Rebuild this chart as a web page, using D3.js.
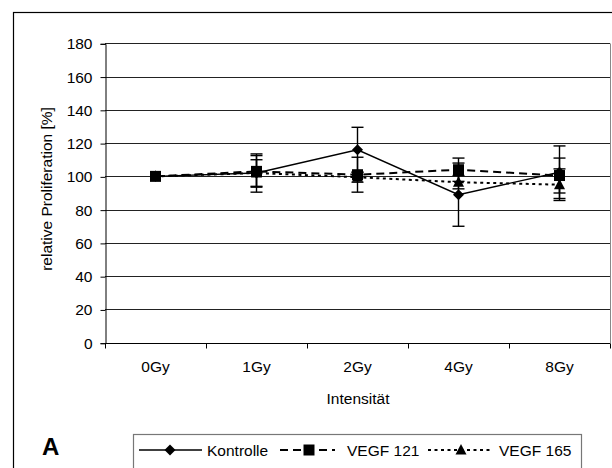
<!DOCTYPE html>
<html>
<head>
<meta charset="utf-8">
<script src="https://cdn.jsdelivr.net/npm/d3@7"></script>
<style>
  html, body { margin: 0; padding: 0; background: #fff; }
  svg { display: block; font-family: "Liberation Sans", Arial, sans-serif; }
</style>
</head>
<body>
<svg id="chart" width="612" height="468"></svg>
<script>
// Dose levels on the x axis
const categories = ["0Gy", "1Gy", "2Gy", "4Gy", "8Gy"];
const yTicks = [0, 20, 40, 60, 80, 100, 120, 140, 160, 180];

// Relative proliferation (%) per group, with standard deviations
const kontrolle    = [100, 102, 116, 89, 102.5];
const kontrolleErr = [0, 11.5, 13.5, 19, 15.8];
const vegf121      = [100, 103, 101, 104, 100.5];
const vegf121Err   = [0, 9.5, 10.5, 7, 10.5];
const vegf165      = [100, 102, 99.5, 96.5, 95];
const vegf165Err   = [0, 8, 3, 4, 9.5];

const series = [
  { name: "Kontrolle", values: kontrolle, errors: kontrolleErr, dash: null, width: 1.4, marker: "diamond" },
  { name: "VEGF 121", values: vegf121, errors: vegf121Err, dash: "8,5", width: 2, marker: "square" },
  { name: "VEGF 165", values: vegf165, errors: vegf165Err, dash: "3,3.5", width: 2, marker: "triangle" }
];

const svg = d3.select("#chart");
const plot = { left: 105, right: 610, top: 43.3, bottom: 342.7 };

const x = d3.scaleBand().domain(categories).range([plot.left, plot.right]).padding(0);
const y = d3.scaleLinear().domain([0, 180]).range([plot.bottom, plot.top]);
const cx = c => x(c) + x.bandwidth() / 2;

// Outer chart frame
svg.append("rect")
  .attr("x", 13.5).attr("y", 12.5).attr("width", 640).attr("height", 500)
  .attr("fill", "none").attr("stroke", "#000").attr("stroke-width", 1.2);

// Horizontal gridlines
svg.append("g").selectAll("line").data(yTicks.filter(t => t > 0)).join("line")
  .attr("x1", plot.left).attr("x2", plot.right)
  .attr("y1", d => Math.round(y(d)) + 0.5).attr("y2", d => Math.round(y(d)) + 0.5)
  .attr("stroke", "#222").attr("stroke-width", 1);

// Plot area right border
svg.append("line")
  .attr("x1", plot.right + 0.5).attr("x2", plot.right + 0.5)
  .attr("y1", Math.round(y(180)) + 0.5).attr("y2", Math.round(y(0)) + 0.5)
  .attr("stroke", "#888").attr("stroke-width", 1);

// Y axis
const yAxis = d3.axisLeft(y).tickValues(yTicks).tickSize(5).tickPadding(8);
const gy = svg.append("g").attr("transform", `translate(${plot.left + 0.5},0.5)`).call(yAxis);
gy.select(".domain").attr("stroke", "#000");
gy.selectAll(".tick line").attr("stroke", "#000");
gy.selectAll(".tick text").attr("font-size", 15.5).attr("fill", "#000")
  .attr("font-family", "Liberation Sans, Arial, sans-serif");

// X axis: ticks sit between categories
const gx = svg.append("g").attr("transform", `translate(0,${Math.round(plot.bottom) + 0.5})`);
gx.append("line").attr("x1", plot.left).attr("x2", plot.right).attr("stroke", "#000");
gx.selectAll("line.tk").data(categories.concat(["end"])).join("line").attr("class", "tk")
  .attr("x1", (d, i) => Math.round(i < categories.length ? x(d) : plot.right) + 0.5)
  .attr("x2", (d, i) => Math.round(i < categories.length ? x(d) : plot.right) + 0.5)
  .attr("y1", 0).attr("y2", 5).attr("stroke", "#000");
gx.selectAll("text").data(categories).join("text")
  .attr("x", d => cx(d)).attr("y", 28.5)
  .attr("text-anchor", "middle").attr("font-size", 15.5).text(d => d);

// Axis titles
svg.append("text").attr("x", 358).attr("y", 404)
  .attr("text-anchor", "middle").attr("font-size", 15.5).text("Intensität");
svg.append("text")
  .attr("transform", "translate(52,189) rotate(-90)")
  .attr("text-anchor", "middle").attr("font-size", 15.5).text("relative Proliferation [%]");

// Marker shapes
function markerPath(kind) {
  if (kind === "diamond") return "M0,-5.5L5.5,0L0,5.5L-5.5,0Z";
  if (kind === "square") return "M-5.5,-5.5H5.5V5.5H-5.5Z";
  return "M0,-6L5.5,4.5L-5.5,4.5Z";
}

const line = d3.line().x(d => cx(d.c)).y(d => y(d.v));

series.forEach(s => {
  const g = svg.append("g");
  const pts = categories.map((c, i) => ({ c, v: s.values[i], e: s.errors[i] }));
  g.append("path").datum(pts).attr("d", line)
    .attr("fill", "none").attr("stroke", "#000").attr("stroke-width", s.width)
    .attr("stroke-dasharray", s.dash);
  // Error bars
  pts.filter(p => p.e > 0).forEach(p => {
    const px = cx(p.c);
    g.append("line").attr("x1", px).attr("x2", px)
      .attr("y1", y(p.v + p.e)).attr("y2", y(p.v - p.e))
      .attr("stroke", "#000").attr("stroke-width", 1.4);
    [p.v + p.e, p.v - p.e].forEach(v => {
      g.append("line").attr("x1", px - 6).attr("x2", px + 6)
        .attr("y1", y(v)).attr("y2", y(v))
        .attr("stroke", "#000").attr("stroke-width", 1.4);
    });
  });
  g.selectAll("path.mk").data(pts).join("path").attr("class", "mk")
    .attr("transform", d => `translate(${cx(d.c)},${y(d.v)})`)
    .attr("d", markerPath(s.marker)).attr("fill", "#000");
});

// Panel letter
svg.append("text").attr("x", 42).attr("y", 455)
  .attr("font-size", 24).attr("font-weight", "bold").text("A");

// Legend
const lg = svg.append("g");
lg.append("rect").attr("x", 133.5).attr("y", 434.5).attr("width", 448).attr("height", 60)
  .attr("fill", "#fff").attr("stroke", "#777").attr("stroke-width", 1.2);
const legendPos = [
  { x1: 139, x2: 202, m: 170, tx: 207 },
  { x1: 280, x2: 335, m: 309, tx: 347 },
  { x1: 428, x2: 490, m: 461, tx: 499 }
];
series.forEach((s, i) => {
  const p = legendPos[i];
  lg.append("line").attr("x1", p.x1).attr("x2", p.x2).attr("y1", 450).attr("y2", 450)
    .attr("stroke", "#000").attr("stroke-width", s.width).attr("stroke-dasharray", s.dash);
  lg.append("path").attr("transform", `translate(${p.m},450)`)
    .attr("d", markerPath(s.marker)).attr("fill", "#000");
  lg.append("text").attr("x", p.tx).attr("y", 455.5).attr("font-size", 15.5).text(s.name);
});
</script>
</body>
</html>
